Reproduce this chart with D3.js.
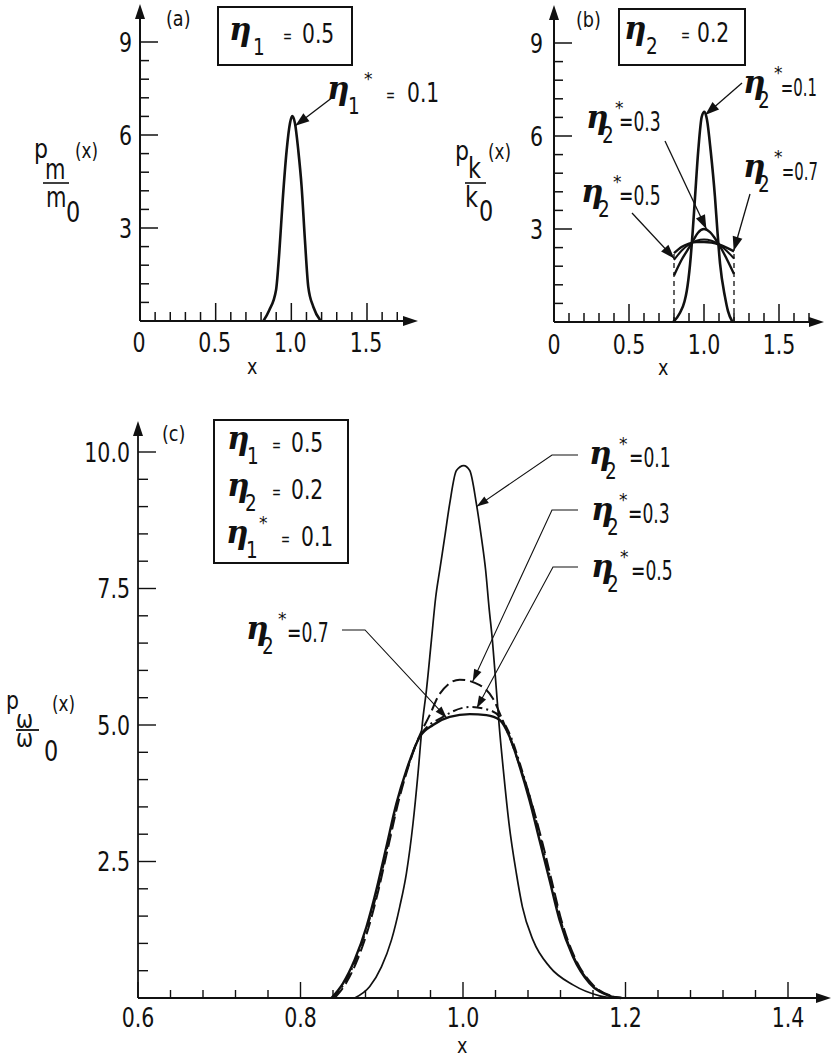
<!DOCTYPE html>
<html>
<head>
<meta charset="utf-8">
<script src="https://cdn.jsdelivr.net/npm/d3@7"></script>
<style>
  body { margin: 0; background: #fff; }
  svg { display: block; }
  text { font-family: "DejaVu Sans", sans-serif; fill: #111; }
  .eta { font-family: "DejaVu Serif", serif; font-style: italic; font-weight: bold; }
</style>
</head>
<body>
<svg id="chart" width="834" height="1059"></svg>
<script>
// ---------- tick labels ----------
const abXTicks = [0, 0.5, 1.0, 1.5];
const abXLabels = ["0", "0.5", "1.0", "1.5"];
const abYTicks = [3, 6, 9];
const abYLabels = ["3", "6", "9"];
const cXTicks = [0.6, 0.8, 1.0, 1.2, 1.4];
const cXLabels = ["0.6", "0.8", "1.0", "1.2", "1.4"];
const cYTicks = [2.5, 5.0, 7.5, 10.0];
const cYLabels = ["2.5", "5.0", "7.5", "10.0"];

// ---------- (a) p_m/m0, eta1* = 0.1 ----------
const massDensity = [
  [0.815, 0], [0.854, 0.35], [0.899, 1.0], [0.920, 2.18], [0.943, 3.9], [0.969, 5.5],
  [0.991, 6.38], [1.006, 6.61], [1.024, 6.38], [1.046, 5.5], [1.068, 4.33], [1.090, 2.6],
  [1.112, 1.1], [1.145, 0.46], [1.194, 0]
];

// ---------- (b) p_k/k0 for eta2* = 0.1, 0.3, 0.5, 0.7 ----------
const stiffDensity01 = [
  [0.795, 0], [0.84, 0.3], [0.87, 0.66], [0.885, 1.0], [0.907, 1.86], [0.925, 2.94], [0.94, 4.01],
  [0.962, 5.55], [0.985, 6.62], [1.003, 6.78], [1.02, 6.52], [1.045, 5.5], [1.073, 4.04],
  [1.089, 2.96], [1.107, 1.88], [1.14, 0.81], [1.16, 0.35], [1.19, 0]
];
const stiffDensity03 = [
  [0.8, 1.5], [0.85, 2.0], [0.9, 2.4], [0.93, 2.65], [0.96, 2.88], [1.0, 3.0],
  [1.04, 2.9], [1.07, 2.72], [1.1, 2.5], [1.15, 2.05], [1.2, 1.55]
];
const stiffDensity05 = [
  [0.8, 2.0], [0.85, 2.3], [0.9, 2.5], [0.95, 2.62], [1.0, 2.66], [1.05, 2.62],
  [1.1, 2.5], [1.15, 2.3], [1.2, 2.05]
];
const stiffDensity07 = [
  [0.8, 2.22], [0.85, 2.42], [0.9, 2.53], [0.95, 2.58], [1.0, 2.58], [1.05, 2.56],
  [1.1, 2.5], [1.15, 2.4], [1.2, 2.28]
];
const stiffCutoffs = [0.8, 1.2];

// ---------- (c) p_w/w0 for eta2* = 0.1, 0.3, 0.5, 0.7 ----------
const freqDensity01 = [
  [0.8667, 0], [0.8852, 0.21], [0.8996, 0.57], [0.9119, 1.06], [0.9221, 1.67], [0.9303, 2.28],
  [0.9385, 3.20], [0.9446, 4.11], [0.950, 5.03], [0.955, 5.64], [0.9611, 6.55], [0.9664, 7.34],
  [0.9713, 7.83], [0.9775, 8.44], [0.9836, 9.05], [0.9919, 9.66], [1.0009, 9.75], [1.0083, 9.66],
  [1.0165, 9.05], [1.0226, 8.44], [1.0279, 7.83], [1.032, 7.16], [1.0362, 6.55], [1.0411, 5.64],
  [1.0443, 5.03], [1.0501, 4.11], [1.0566, 3.20], [1.0657, 2.28], [1.0731, 1.67], [1.0862, 1.06],
  [1.1067, 0.57], [1.1354, 0.24], [1.1682, 0.04], [1.1826, 0]
];
const freqDensity03 = [
  [0.842, 0], [0.856, 0.27], [0.870, 0.70], [0.884, 1.30], [0.896, 1.98], [0.908, 2.77],
  [0.920, 3.56], [0.932, 4.20], [0.945, 4.75], [0.959, 5.18], [0.9713, 5.57], [0.9959, 5.83],
  [1.0206, 5.73], [1.037, 5.48], [1.047, 5.15], [1.058, 4.75], [1.071, 4.20], [1.084, 3.60],
  [1.097, 2.89], [1.109, 2.16], [1.121, 1.43], [1.137, 0.76], [1.158, 0.27], [1.182, 0.04], [1.196, 0]
];
const freqDensity05 = [
  [0.840, 0], [0.854, 0.27], [0.868, 0.70], [0.882, 1.30], [0.895, 1.98], [0.907, 2.77],
  [0.919, 3.56], [0.931, 4.18], [0.947, 4.80], [0.9754, 5.15], [1.0083, 5.33], [1.0329, 5.27],
  [1.047, 5.12], [1.059, 4.78], [1.0715, 4.22], [1.0835, 3.62], [1.096, 2.89], [1.108, 2.16],
  [1.120, 1.43], [1.136, 0.76], [1.157, 0.27], [1.181, 0.04], [1.196, 0]
];
const freqDensity07 = [
  [0.838, 0], [0.8523, 0.27], [0.8667, 0.70], [0.8811, 1.30], [0.8934, 1.98], [0.9057, 2.77],
  [0.918, 3.56], [0.9303, 4.17], [0.9467, 4.78], [0.9631, 5.0], [0.9836, 5.15], [1.0083, 5.20],
  [1.0288, 5.18], [1.0452, 5.09], [1.0575, 4.78], [1.07, 4.23], [1.0819, 3.62], [1.0942, 2.89],
  [1.1065, 2.16], [1.1188, 1.43], [1.1352, 0.76], [1.1557, 0.27], [1.1803, 0.04], [1.1947, 0]
];

const INK = "#111";
const svg = d3.select("#chart");

// ---------- scales ----------
const xa = d3.scaleLinear().domain([0, 1.5]).range([140, 367]);
const ya = d3.scaleLinear().domain([0, 9]).range([321, 42]);
const xb = d3.scaleLinear().domain([0, 1.5]).range([554, 779]);
const yb = d3.scaleLinear().domain([0, 9]).range([322, 43]);
const xc = d3.scaleLinear().domain([0.6, 1.4]).range([138, 788]);
const yc = d3.scaleLinear().domain([0, 10]).range([998, 452]);

// ---------- helpers ----------
// squeeze a text horizontally so the wide face reads like a condensed type
function condense(sel, f) {
  sel.each(function () {
    const L = this.getComputedTextLength();
    if (L > 0) d3.select(this).attr("textLength", L * f).attr("lengthAdjust", "spacingAndGlyphs");
  });
  return sel;
}
function text(g, x, y, s, fs, f = 0.8, cls, anchor) {
  const t = g.append("text").attr("x", x).attr("y", y).attr("font-size", fs).text(s);
  if (cls) t.attr("class", cls);
  if (anchor) t.attr("text-anchor", anchor);
  if (f !== 1) condense(t, f);
  return t;
}
function arrowHead(g, x1, y1, x2, y2, len, hw) {
  const d = Math.hypot(x2 - x1, y2 - y1), ux = (x2 - x1) / d, uy = (y2 - y1) / d;
  const bx = x2 - ux * len, by = y2 - uy * len;
  g.append("path")
    .attr("d", `M${x2},${y2}L${bx - uy * hw},${by + ux * hw}L${bx + uy * hw},${by - ux * hw}Z`)
    .attr("fill", INK);
}
function leader(g, pts, len, hw, sw) {
  g.append("path").attr("d", d3.line()(pts)).attr("fill", "none")
    .attr("stroke", INK).attr("stroke-width", sw);
  const n = pts.length;
  arrowHead(g, pts[n - 2][0], pts[n - 2][1], pts[n - 1][0], pts[n - 1][1], len, hw);
}

function axes(g, xs, ys, o) {
  const x0 = xs(o.xMin), y0 = ys(0);
  const tickLine = (vals, len, horiz) => g.append("g").selectAll("line").data(vals).join("line")
    .attr("x1", d => horiz ? xs(d) : x0).attr("x2", d => horiz ? xs(d) : x0 + len)
    .attr("y1", d => horiz ? y0 : ys(d)).attr("y2", d => horiz ? y0 - len : ys(d))
    .attr("stroke", INK).attr("stroke-width", o.tickW);
  tickLine(o.xMinor, o.xMinorLen, true);
  tickLine(o.xMajor, o.xMajorLen, true);
  tickLine(o.yMinor, o.yMinorLen, false);
  tickLine(o.yMajor, o.yMajorLen, false);
  g.append("g").selectAll("text").data(o.xMajor).join("text")
    .attr("x", d => xs(d) + (o.xLabShift || 0)).attr("y", y0 + o.xLabDy)
    .attr("text-anchor", "middle").attr("font-size", o.fs)
    .text((d, i) => o.xLabels[i]).call(condense, 0.76);
  g.append("g").selectAll("text").data(o.yMajor).join("text")
    .attr("x", x0 - o.yPad).attr("y", d => ys(d) + o.fs * 0.36)
    .attr("text-anchor", "end").attr("font-size", o.fs)
    .text((d, i) => o.yLabels[i]).call(condense, 0.76);
  // axis lines with arrows
  g.append("line").attr("x1", x0).attr("y1", y0).attr("x2", o.xEnd - 8).attr("y2", y0)
    .attr("stroke", INK).attr("stroke-width", o.axisW);
  arrowHead(g, x0, y0, o.xEnd, y0, 15, 5);
  g.append("line").attr("x1", x0).attr("y1", y0).attr("x2", x0).attr("y2", o.yTop + 8)
    .attr("stroke", INK).attr("stroke-width", o.axisW);
  arrowHead(g, x0, y0, x0, o.yTop, 15, 5);
}

// eta label: eta, subscript, optional star, optional small "=", then the value text
function etaLabel(g, p) {
  text(g, p.x, p.y - 3, "η", 31, 1, "eta");
  text(g, p.x + (p.subDx ?? 17), p.y + 12, p.sub, 23, 0.8);
  if (p.star) text(g, p.x + (p.starDx ?? 31), p.y - 17, "*", 17, 1);
  if (p.eq) text(g, p.x + p.eqDx, p.y - 1, p.eq, 18, 0.6);
  if (p.valEnd) text(g, p.valEnd, p.y, p.val, p.vfs || 26, p.vf || 0.66, null, "end");
  else text(g, p.x + p.valDx, p.y, p.val, p.vfs || 26, p.vf || (p.eq ? 0.78 : 0.66));
}

const minorAB_X = d3.range(1, 18).filter(i => i % 5 !== 0).map(i => i / 10);
const minorAB_Y = d3.range(1, 16).filter(i => i % 5 !== 0).map(i => i * 0.6);
const minorC_X = d3.range(1, 21).filter(i => i % 5 !== 0).map(i => 0.6 + i * 0.04);
const minorC_Y = d3.range(1, 21).filter(i => i % 5 !== 0).map(i => i * 0.5);

// ================= Panel (a) =================
const ga = svg.append("g");
axes(ga, xa, ya, {
  xMin: 0, xMinor: minorAB_X, xMajor: abXTicks, xLabels: abXLabels, xMinorLen: 9, xMajorLen: 18, xLabDy: 31,
  yMinor: minorAB_Y, yMajor: abYTicks, yLabels: abYLabels, yMinorLen: 9, yMajorLen: 18, yPad: 8,
  xEnd: 418, yTop: 4, axisW: 2, tickW: 1.5, fs: 27, xLabShift: -1
});
const lineA = d3.line().x(d => xa(d[0])).y(d => ya(d[1])).curve(d3.curveMonotoneX);
ga.append("path").datum(massDensity).attr("d", lineA).attr("fill", "none")
  .attr("stroke", INK).attr("stroke-width", 2.6).attr("stroke-linejoin", "round");

text(ga, 166, 26, "(a)", 22, 0.8);
ga.append("rect").attr("x", 218).attr("y", 7).attr("width", 134).attr("height", 58)
  .attr("fill", "none").attr("stroke", INK).attr("stroke-width", 2);
etaLabel(ga, { x: 229, y: 43, sub: "1", subDx: 24, eq: "=", eqDx: 54, val: "0.5", valDx: 73 });
etaLabel(ga, { x: 327, y: 102, sub: "1", subDx: 21, star: true, starDx: 37, eq: "=", eqDx: 59, val: "0.1", valDx: 80 });
leader(ga, [[333, 97], [xa(1.026), ya(6.3)]], 14, 5, 1.3);

text(ga, 34, 158, "p", 26, 0.85);
text(ga, 75, 158, "(x)", 21, 0.8);
text(ga, 45, 179, "m", 28, 0.75);
ga.append("line").attr("x1", 43).attr("x2", 69).attr("y1", 183).attr("y2", 183)
  .attr("stroke", INK).attr("stroke-width", 1.6);
text(ga, 46, 207, "m", 28, 0.75);
text(ga, 66, 222, "0", 28, 0.8);
text(ga, 247, 374, "x", 22, 0.8);

// ================= Panel (b) =================
const gb = svg.append("g");
axes(gb, xb, yb, {
  xMin: 0, xMinor: minorAB_X, xMajor: abXTicks, xLabels: abXLabels, xMinorLen: 9, xMajorLen: 18, xLabDy: 32,
  yMinor: minorAB_Y, yMajor: abYTicks, yLabels: abYLabels, yMinorLen: 9, yMajorLen: 18, yPad: 11,
  xEnd: 824, yTop: 5, axisW: 2, tickW: 1.5, fs: 27
});
const lineB = d3.line().x(d => xb(d[0])).y(d => yb(d[1])).curve(d3.curveMonotoneX);
// truncation drop lines of the broad curves
gb.append("g").selectAll("line").data(stiffCutoffs).join("line")
  .attr("x1", d => xb(d)).attr("x2", d => xb(d))
  .attr("y1", yb(0)).attr("y2", yb(2.25))
  .attr("stroke", INK).attr("stroke-width", 1.3).attr("stroke-dasharray", "5,4");
[stiffDensity07, stiffDensity05, stiffDensity03].forEach((s, i) => {
  gb.append("path").datum(s).attr("d", lineB).attr("fill", "none")
    .attr("stroke", INK).attr("stroke-width", [2.4, 2.0, 2.4][i]);
});
gb.append("path").datum(stiffDensity01).attr("d", lineB).attr("fill", "none")
  .attr("stroke", INK).attr("stroke-width", 2.6).attr("stroke-linejoin", "round");

text(gb, 576, 27, "(b)", 22, 0.8);
gb.append("rect").attr("x", 619).attr("y", 9).attr("width", 126).attr("height", 56)
  .attr("fill", "none").attr("stroke", INK).attr("stroke-width", 2);
etaLabel(gb, { x: 624, y: 42, sub: "2", subDx: 22, eq: "=", eqDx: 57, val: "0.2", valDx: 73 });
etaLabel(gb, { x: 743, y: 96, sub: "2", subDx: 15, star: true, starDx: 31, val: "=0.1", valEnd: 817, vfs: 24, vf: 0.62 });
etaLabel(gb, { x: 586, y: 131, sub: "2", subDx: 16, star: true, starDx: 29, val: "=0.3", valDx: 33 });
etaLabel(gb, { x: 581, y: 205, sub: "2", subDx: 17, star: true, starDx: 32, val: "=0.5", valDx: 38 });
etaLabel(gb, { x: 743, y: 180, sub: "2", subDx: 15, star: true, starDx: 31, val: "=0.7", valEnd: 818, vfs: 24, vf: 0.62 });
leader(gb, [[742, 83], [xb(1.008), yb(6.68)]], 14, 5, 1.3);
leader(gb, [[665, 141], [xb(1.016), yb(3.0)]], 14, 5, 1.3);
leader(gb, [[632, 213], [xb(0.802), yb(2.05)]], 14, 5, 1.3);
leader(gb, [[750, 194], [xb(1.198), yb(2.3)]], 14, 5, 1.3);

text(gb, 455, 160, "p", 26, 0.85);
text(gb, 488, 159, "(x)", 21, 0.8);
text(gb, 468, 178, "k", 28, 0.8);
gb.append("line").attr("x1", 465).attr("x2", 486).attr("y1", 183).attr("y2", 183)
  .attr("stroke", INK).attr("stroke-width", 1.6);
text(gb, 465, 207, "k", 28, 0.8);
text(gb, 479, 221, "0", 28, 0.8);
text(gb, 658, 375, "x", 22, 0.8);

// ================= Panel (c) =================
const gc = svg.append("g");
axes(gc, xc, yc, {
  xMin: 0.6, xMinor: minorC_X, xMajor: cXTicks, xLabels: cXLabels, xMinorLen: 8, xMajorLen: 16, xLabDy: 29,
  yMinor: minorC_Y, yMajor: cYTicks, yLabels: cYLabels, yMinorLen: 10, yMajorLen: 18, yPad: 8,
  xEnd: 831, yTop: 421, axisW: 1.8, tickW: 1.4, fs: 27
});
const lineC = d3.line().x(d => xc(d[0])).y(d => yc(d[1])).curve(d3.curveMonotoneX);
const cSeries = [
  { data: freqDensity07, w: 2.4, dash: null },
  { data: freqDensity05, w: 2.0, dash: "10,4,2,4" },
  { data: freqDensity03, w: 2.0, dash: "13,5" },
  { data: freqDensity01, w: 1.7, dash: null }
];
cSeries.forEach(s => {
  gc.append("path").datum(s.data).attr("d", lineC).attr("fill", "none")
    .attr("stroke", INK).attr("stroke-width", s.w)
    .attr("stroke-dasharray", s.dash).attr("stroke-linejoin", "round");
});

text(gc, 162, 441, "(c)", 22, 0.8);
gc.append("rect").attr("x", 214).attr("y", 420).attr("width", 134).attr("height", 143)
  .attr("fill", "none").attr("stroke", INK).attr("stroke-width", 2);
etaLabel(gc, { x: 227, y: 452, sub: "1", subDx: 20, eq: "=", eqDx: 45, val: "0.5", valDx: 64 });
etaLabel(gc, { x: 227, y: 499, sub: "2", subDx: 18, eq: "=", eqDx: 45, val: "0.2", valDx: 64 });
etaLabel(gc, { x: 226, y: 546, sub: "1", subDx: 20, star: true, starDx: 33, eq: "=", eqDx: 55, val: "0.1", valDx: 75 });

etaLabel(gc, { x: 589, y: 467, sub: "2", subDx: 16, star: true, starDx: 30, val: "=0.1", valDx: 40 });
etaLabel(gc, { x: 591, y: 523, sub: "2", subDx: 16, star: true, starDx: 28, val: "=0.3", valDx: 37 });
etaLabel(gc, { x: 591, y: 580, sub: "2", subDx: 16, star: true, starDx: 29, val: "=0.5", valDx: 40 });
etaLabel(gc, { x: 246, y: 642, sub: "2", subDx: 16, star: true, starDx: 32, val: "=0.7", valDx: 41 });

leader(gc, [[578, 455], [552, 455], [xc(1.0168), yc(9.0)]], 12, 4, 1.1);
leader(gc, [[578, 510], [552, 510], [xc(1.012), yc(5.8)]], 12, 4, 1.1);
leader(gc, [[578, 567], [553, 567], [xc(1.017), yc(5.31)]], 12, 4, 1.1);
leader(gc, [[342, 630], [365, 630], [xc(0.98), yc(5.13)]], 12, 4, 1.1);

text(gc, 6, 709, "p", 24, 0.85);
text(gc, 52, 711, "(x)", 21, 0.8);
text(gc, 16, 728, "ω", 24, 0.85);
gc.append("line").attr("x1", 16).attr("x2", 39).attr("y1", 730).attr("y2", 730)
  .attr("stroke", INK).attr("stroke-width", 1.8);
text(gc, 16, 747, "ω", 24, 0.85);
text(gc, 44, 761, "0", 28, 0.8);
text(gc, 457, 1053, "x", 22, 0.8);
</script>
</body>
</html>
